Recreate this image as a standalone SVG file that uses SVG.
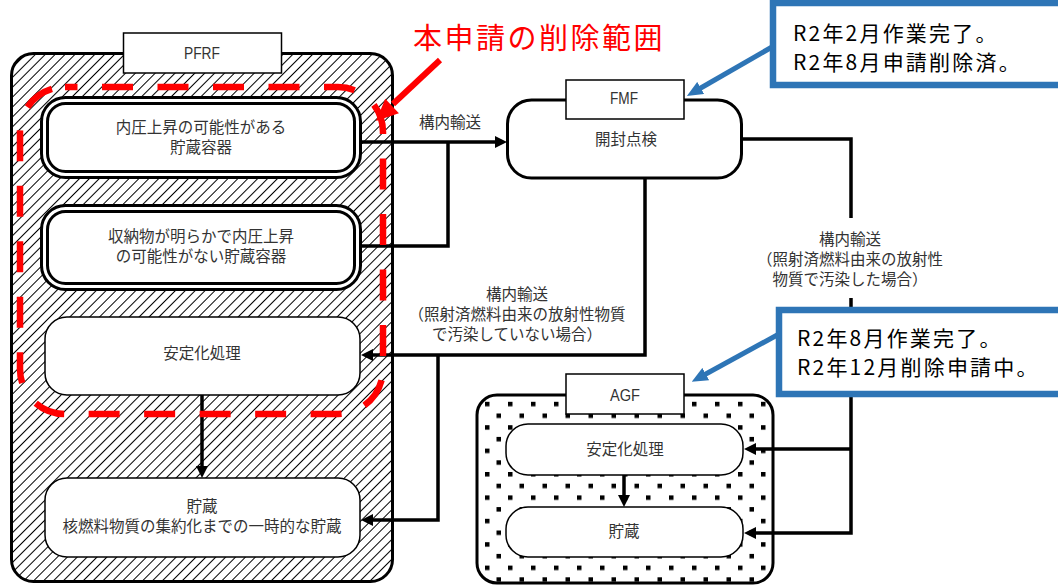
<svg xmlns="http://www.w3.org/2000/svg" width="1058" height="585" viewBox="0 0 1058 585">
<defs>
<pattern id="hatch" patternUnits="userSpaceOnUse" width="7" height="10" patternTransform="rotate(45)">
<rect width="7" height="10" fill="#fff"/>
<line x1="0.5" y1="0" x2="0.5" y2="10" stroke="#000" stroke-width="1"/>
</pattern>
<pattern id="dots" patternUnits="userSpaceOnUse" x="2" y="4" width="23" height="23.4">
<rect width="23" height="23.4" fill="#fff"/>
<rect x="0" y="0" width="4.5" height="4.5" fill="#000"/>
<rect x="11.5" y="11.7" width="4.5" height="4.5" fill="#000"/>
</pattern>
<marker id="arr" viewBox="0 0 12 12" refX="1" refY="6" markerWidth="12" markerHeight="12" markerUnits="userSpaceOnUse" orient="auto">
<path d="M0,0 L12,6 L0,12 z" fill="#000"/>
</marker>
<marker id="arrB" viewBox="0 0 16 14" refX="2" refY="7" markerWidth="16" markerHeight="14" markerUnits="userSpaceOnUse" orient="auto">
<path d="M0,0 L16,7 L0,14 z" fill="#2E75B6"/>
</marker>
<style>
.t{font-family:"Noto Sans CJK JP","Noto Sans",sans-serif;font-size:15.5px;fill:#333;text-anchor:middle}
.lat{font-family:"Liberation Sans","Noto Sans",sans-serif;font-size:17px;fill:#333;text-anchor:middle}
.box{fill:#fff;stroke:#000;stroke-width:1.5}
.thick{fill:#fff;stroke:#000;stroke-width:3}
.con{fill:none;stroke:#000;stroke-width:3.5}
.call{fill:#fff;stroke:#2E75B6;stroke-width:6.5}
.ct{font-family:"Noto Sans CJK JP","Noto Sans",sans-serif;font-size:21px;fill:#000;letter-spacing:2.2px}
</style>
</defs>

<g id="PFRF">
<rect x="11.5" y="53.5" width="381" height="528" rx="22" fill="url(#hatch)" stroke="#000" stroke-width="3"/>
<rect x="123.5" y="33" width="158" height="40" class="box"/>
<text x="202" y="58.5" class="lat" textLength="36" lengthAdjust="spacingAndGlyphs">PFRF</text>
</g>

<g id="node-container1">
<rect x="41.5" y="97.5" width="319" height="80" rx="24" class="thick"/>
<rect x="47.5" y="103.5" width="307" height="68" rx="18" class="thick"/>
<text x="201" y="133" class="t">内圧上昇の可能性がある</text>
<text x="201" y="153" class="t">貯蔵容器</text>
</g>

<g id="node-container2">
<rect x="41.5" y="205.5" width="319" height="84" rx="24" class="thick"/>
<rect x="47.5" y="211.5" width="307" height="72" rx="18" class="thick"/>
<text x="201" y="242" class="t">収納物が明らかで内圧上昇</text>
<text x="201" y="262" class="t">の可能性がない貯蔵容器</text>
</g>

<g id="node-pfrf-stabilize">
<rect x="45" y="317" width="315" height="78" rx="22" class="box"/>
<text x="202" y="359" class="t">安定化処理</text>
</g>

<g id="node-pfrf-storage">
<rect x="45" y="478" width="315" height="79" rx="22" class="box"/>
<text x="202" y="512" class="t">貯蔵</text>
<text x="202" y="532" class="t">核燃料物質の集約化までの一時的な貯蔵</text>
</g>

<g id="FMF">
<rect x="507.5" y="100" width="234" height="78" rx="24" class="thick"/>
<rect x="566" y="80" width="118" height="39" class="box"/>
<text x="624" y="104" class="lat" textLength="28" lengthAdjust="spacingAndGlyphs">FMF</text>
<text x="626" y="145" class="t">開封点検</text>
</g>

<g id="AGF">
<rect x="477" y="395" width="296" height="188" rx="20" fill="url(#dots)" stroke="#000" stroke-width="3"/>
<rect x="566" y="374" width="118" height="40" class="box"/>
<text x="625" y="400.5" class="lat" textLength="30" lengthAdjust="spacingAndGlyphs">AGF</text>
</g>

<g id="node-agf-stabilize">
<rect x="506" y="424" width="237" height="51" rx="22" class="box"/>
<text x="625" y="455" class="t">安定化処理</text>
</g>

<g id="node-agf-storage">
<rect x="506" y="507" width="237" height="50" rx="22" class="box"/>
<text x="624" y="537" class="t">貯蔵</text>
</g>

<g id="connectors">
<path class="con" d="M360,142 H496" marker-end="url(#arr)"/>
<path class="con" d="M360,246 H448 V142"/>
<path class="con" d="M645,178 V355 H372" marker-end="url(#arr)"/>
<path class="con" d="M438,355 V520 H372" marker-end="url(#arr)"/>
<path class="con" d="M202,395 V467" marker-end="url(#arr)"/>
<path class="con" d="M742,139 H851 V218 M851,298 V533 H755" marker-end="url(#arr)"/>
<path class="con" d="M851,449 H755" marker-end="url(#arr)"/>
<path class="con" d="M624,475 V496" marker-end="url(#arr)"/>
<text x="450" y="128" class="t">構内輸送</text>
<text x="517" y="300" class="t">構内輸送</text>
<text x="517" y="320" class="t">（照射済燃料由来の放射性物質</text>
<text x="517" y="340" class="t">で汚染していない場合）</text>
<text x="850" y="245" class="t">構内輸送</text>
<text x="850" y="265" class="t">（照射済燃料由来の放射性</text>
<text x="850" y="285" class="t">物質で汚染した場合）</text>
</g>

<g id="deletion-scope">
<rect x="20" y="87" width="363" height="327" rx="45" fill="none" stroke="#FF0000" stroke-width="6.5" stroke-dasharray="31 24.5" stroke-dashoffset="18.5"/>
<line x1="440" y1="60" x2="393" y2="104" stroke="#FF0000" stroke-width="6"/>
<path d="M0,0 L22,10 L0,20 z" fill="#FF0000" transform="translate(376,121) rotate(137) translate(-22,-10)"/>
<text x="413" y="49" font-family="Noto Sans CJK JP, Noto Sans, sans-serif" font-size="29" fill="#FF0000" letter-spacing="2.5">本申請の削除範囲</text>
</g>

<g id="callout-fmf">
<line x1="772" y1="47" x2="699" y2="89" stroke="#2E75B6" stroke-width="5" marker-end="url(#arrB)"/>
<rect x="773" y="3" width="300" height="82" class="call"/>
<text x="793" y="41" class="ct">R2年2月作業完了。</text>
<text x="793" y="70" class="ct">R2年8月申請削除済。</text>
</g>

<g id="callout-agf">
<line x1="779" y1="334" x2="704" y2="375" stroke="#2E75B6" stroke-width="5" marker-end="url(#arrB)"/>
<rect x="779" y="310" width="300" height="84" class="call"/>
<text x="797" y="346" class="ct">R2年8月作業完了。</text>
<text x="797" y="375" class="ct">R2年12月削除申請中。</text>
</g>
</svg>
